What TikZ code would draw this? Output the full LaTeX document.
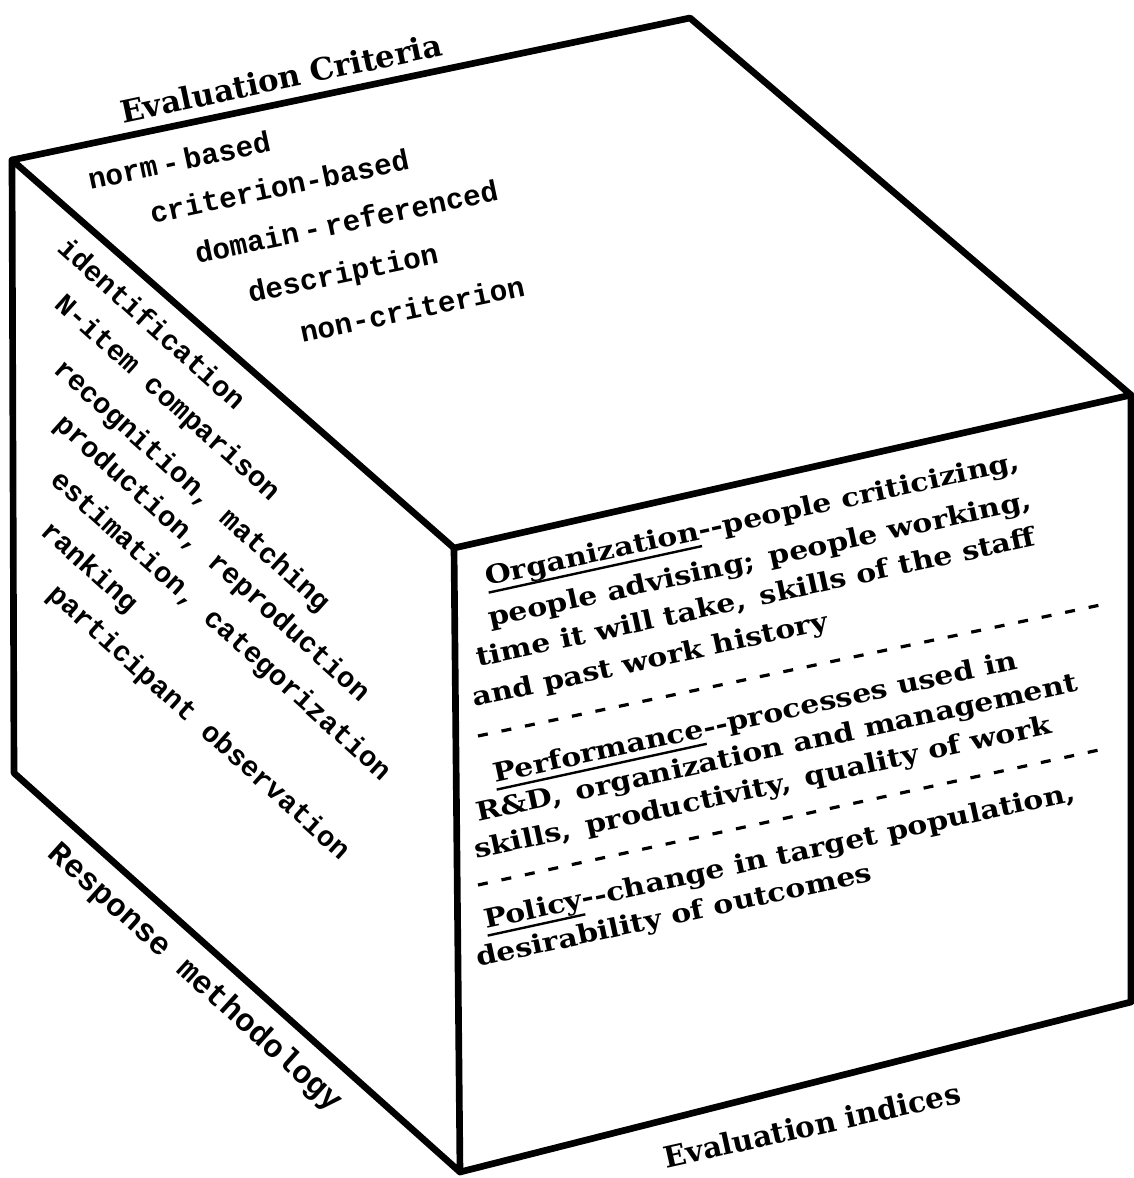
\documentclass[tikz,border=0pt]{standalone}
\usepackage{fontspec}
\newfontfamily\mytw{Liberation Mono}
\newfontfamily\myserif{DejaVu Serif}
\newfontfamily\myserifw{DejaVu Serif}[FakeStretch=1.15]
\newcommand\ulin[1]{\setbox0\hbox{#1}\rlap{\rule[-6pt]{\wd0}{1.8pt}}\box0}
\begin{document}
\begin{tikzpicture}[x=0.75pt,y=-0.75pt,
  edge/.style={line width=5pt,line join=round,line cap=round},
  dashrow/.style={line width=2.4pt,dash pattern=on 7.5pt off 10.5pt},
  lbl/.style={font=\myserif\bfseries\fontsize{23}{26}\selectfont,inner sep=0pt},
  toptxt/.style={font=\mytw\bfseries\fontsize{22}{24}\selectfont,inner sep=0pt,rotate=12,anchor=base west},
  lefttxt/.style={font=\mytw\bfseries\fontsize{21.5}{24}\selectfont,inner sep=0pt,rotate=-42,anchor=mid west},
  righttxt/.style={font=\myserifw\bfseries\fontsize{19.5}{24}\selectfont,inner sep=0pt,rotate=12.3,anchor=base west},
  resp/.style={font=\mytw\bfseries\fontsize{24}{26}\selectfont,inner sep=0pt}]
\useasboundingbox (0,0) rectangle (1134,1178);
% cube corners
\coordinate (A) at (12,160);
\coordinate (B) at (690,18);
\coordinate (C) at (1131,395);
\coordinate (D) at (454,548);
\coordinate (E) at (14,773);
\coordinate (F) at (460,1172);
\coordinate (G) at (1131,1002);
\draw[edge] (A)--(B)--(C)--(D)--cycle;
\draw[edge] (A)--(E)--(F)--(D);
\draw[edge] (C)--(G)--(F);
% top face
\node[lbl,rotate=12] (ec) at (281,78) {Evaluation Criteria};
\node[toptxt] (t1) at (90,190) {norm\,-\,based};
\node[toptxt] (t2) at (152,224) {criterion-based};
\node[toptxt] (t3) at (197,264) {domain\,-\,referenced};
\node[toptxt] (t4) at (250,303) {description};
\node[toptxt] (t5) at (302,343) {non-criterion};
% left face
\node[lefttxt] (l1) at (58,248) {identification};
\node[lefttxt] (l2) at (55,304) {N-item comparison};
\node[lefttxt] (l3) at (54,369) {recognition, matching};
\node[lefttxt] (l4) at (55,424) {production, reproduction};
\node[lefttxt] (l5) at (51,480) {estimation, categorization};
\node[lefttxt] (l6) at (41,531) {ranking};
\node[lefttxt] (l7) at (48,594) {participant observation};
\node[resp,rotate=-42] (rm) at (195,978) {Response methodology};
% right face
\node[righttxt] (r1) at (487,586) {\ulin{Organization}--people criticizing,};
\node[righttxt] (r2) at (490,627) {people advising;\, people working,};
\node[righttxt] (r3) at (478,667) {time it will take,\, skills of the staff};
\node[righttxt] (r4) at (474,707) {and past work history};
\coordinate (d1a) at (478,736);
\coordinate (d1b) at (1105,604);
\draw[dashrow] (d1a) -- (d1b);
\node[righttxt] (r5) at (495,783) {\ulin{Performance}--processes used in};
\node[righttxt] (r6) at (478,822) {R\&D,\, organization and management};
\node[righttxt] (r7) at (476,859) {skills,\, productivity,\, quality of work};
\coordinate (d2a) at (478,885);
\coordinate (d2b) at (1108,748);
\draw[dashrow] (d2a) -- (d2b);
\node[righttxt] (r8) at (486,929) {\ulin{Policy}--change in target population,};
\node[righttxt] (r9) at (478,967) {desirability of outcomes};
\node[lbl,rotate=12.5,font=\myserif\bfseries\fontsize{22}{24}\selectfont] (ei) at (812,1125) {Evaluation indices};
\end{tikzpicture}
\end{document}
